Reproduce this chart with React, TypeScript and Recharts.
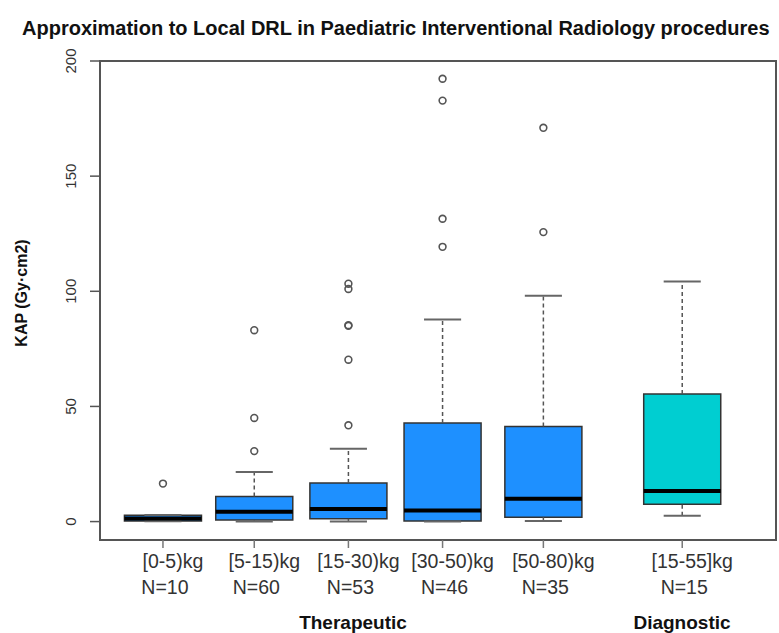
import React from 'react';
import {
  ComposedChart,
  XAxis,
  YAxis,
  Scatter,
  ReferenceArea,
  ReferenceLine,
} from 'recharts';

const categories = ['[0-5)kg', '[5-15)kg', '[15-30)kg', '[30-50)kg', '[50-80)kg', '[15-55]kg'];
const counts = [10, 60, 53, 46, 35, 15];
const positions = [1, 1.96, 2.95, 3.94, 5, 6.46];

const lowWhisker = [0.1, 0, 0, 0, 0.3, 2.5];
const q1 = [0.3, 0.7, 1.2, 0.3, 1.9, 7.5];
const median = [1.3, 4.3, 5.5, 4.8, 9.9, 13.3];
const q3 = [2.7, 10.9, 16.7, 42.8, 41.3, 55.4];
const highWhisker = [2.9, 21.5, 31.6, 87.7, 98.1, 104.2];
const outliers = [
  [16.5],
  [30.6, 45, 83.1],
  [41.8, 70.3, 85, 85.3, 101, 103.3],
  [119.3, 131.5, 182.8, 192.3],
  [125.7, 171],
  [],
];
const boxColors = ['#1E90FF', '#1E90FF', '#1E90FF', '#1E90FF', '#1E90FF', '#00CED1'];

const yTicks = [0, 50, 100, 150, 200];
const xDomain: [number, number] = [0.338, 7.446];
const yDomain: [number, number] = [-8, 200];

const BOX_HALF = 0.405;
const CAP_HALF = 0.195;
const FONT = '"Liberation Sans", Arial, sans-serif';

const outlierPoints = outliers.flatMap((vals, i) => vals.map((v) => ({ x: positions[i], y: v })));

const XTick = (props: any) => {
  const { x, y, index } = props;
  return (
    <g>
      <text x={x + 10} y={y + 18} textAnchor="middle" fontSize={19.5} fill="#333" fontFamily={FONT}>
        {categories[index]}
      </text>
      <text x={x + 2} y={y + 44} textAnchor="middle" fontSize={19.5} fill="#333" fontFamily={FONT}>
        {`N=${counts[index]}`}
      </text>
    </g>
  );
};

const YTick = (props: any) => {
  const { x, y, payload } = props;
  const bx = x - 12;
  return (
    <text
      x={bx}
      y={y}
      transform={`rotate(-90 ${bx} ${y})`}
      textAnchor="middle"
      fontSize={15}
      fill="#333"
      fontFamily={FONT}
    >
      {payload.value}
    </text>
  );
};

const OutlierDot = (props: any) => (
  <circle cx={props.cx} cy={props.cy} r={3.4} fill="none" stroke="#555" strokeWidth={1.6} />
);

export default function App() {
  return (
    <div style={{ position: 'absolute', left: 0, top: 0, width: 779, height: 633, background: '#fff' }}>
      <ComposedChart
        width={779}
        height={633}
        margin={{ top: 61, right: 3, bottom: 0, left: 40 }}
      >
        <XAxis
          dataKey="x"
          type="number"
          domain={xDomain}
          ticks={positions}
          allowDataOverflow
          axisLine={false}
          tickSize={8}
          tickLine={{ stroke: '#777', strokeWidth: 1.5 }}
          height={93}
          tick={<XTick />}
          interval={0}
        />
        <YAxis
          dataKey="y"
          type="number"
          domain={yDomain}
          ticks={yTicks}
          allowDataOverflow
          axisLine={false}
          tickSize={10}
          tickLine={{ stroke: '#555', strokeWidth: 1.5 }}
          width={60}
          tick={<YTick />}
          interval={0}
        />

        {/* whiskers: dashed stems and end caps */}
        {positions.map((p, i) => (
          <ReferenceLine
            key={`wu-${i}`}
            segment={[{ x: p, y: q3[i] }, { x: p, y: highWhisker[i] }]}
            stroke="#555"
            strokeWidth={1.5}
            strokeDasharray="4 3"
            ifOverflow="visible"
          />
        ))}
        {positions.map((p, i) => (
          <ReferenceLine
            key={`wl-${i}`}
            segment={[{ x: p, y: lowWhisker[i] }, { x: p, y: q1[i] }]}
            stroke="#555"
            strokeWidth={1.5}
            strokeDasharray="4 3"
            ifOverflow="visible"
          />
        ))}
        {positions.map((p, i) => (
          <ReferenceLine
            key={`cu-${i}`}
            segment={[{ x: p - CAP_HALF, y: highWhisker[i] }, { x: p + CAP_HALF, y: highWhisker[i] }]}
            stroke="#666"
            strokeWidth={2}
            ifOverflow="visible"
          />
        ))}
        {positions.map((p, i) => (
          <ReferenceLine
            key={`cl-${i}`}
            segment={[{ x: p - CAP_HALF, y: lowWhisker[i] }, { x: p + CAP_HALF, y: lowWhisker[i] }]}
            stroke="#666"
            strokeWidth={2}
            ifOverflow="visible"
          />
        ))}

        {/* boxes */}
        {positions.map((p, i) => (
          <ReferenceArea
            key={`box-${i}`}
            x1={p - BOX_HALF}
            x2={p + BOX_HALF}
            y1={q1[i]}
            y2={q3[i]}
            fill={boxColors[i]}
            fillOpacity={1}
            stroke="#333"
            strokeWidth={1.5}
            ifOverflow="visible"
          />
        ))}

        {/* medians */}
        {positions.map((p, i) => (
          <ReferenceLine
            key={`med-${i}`}
            segment={[{ x: p - BOX_HALF, y: median[i] }, { x: p + BOX_HALF, y: median[i] }]}
            stroke="#000"
            strokeWidth={4}
            ifOverflow="visible"
          />
        ))}

        {/* plot frame */}
        <ReferenceArea
          x1={xDomain[0]}
          x2={xDomain[1]}
          y1={yDomain[0]}
          y2={yDomain[1]}
          fill="none"
          stroke="#555"
          strokeWidth={2}
          ifOverflow="visible"
        />

        <Scatter data={outlierPoints} dataKey="y" shape={<OutlierDot />} isAnimationActive={false} />
      </ComposedChart>

      <svg
        width={779}
        height={633}
        style={{ position: 'absolute', left: 0, top: 0, pointerEvents: 'none' }}
      >
        <text
          x={22}
          y={35}
          fontSize={20}
          fontWeight="bold"
          fill="#111"
          fontFamily={FONT}
        >
          Approximation to Local DRL in Paediatric Interventional Radiology procedures
        </text>
        <text
          x={27}
          y={293}
          transform="rotate(-90 27 293)"
          textAnchor="middle"
          fontSize={16}
          fontWeight="bold"
          fill="#111"
          fontFamily={FONT}
        >
          KAP (Gy·cm2)
        </text>
        <text x={353} y={629} textAnchor="middle" fontSize={19} fontWeight="bold" fill="#111" fontFamily={FONT}>
          Therapeutic
        </text>
        <text x={682} y={629} textAnchor="middle" fontSize={19} fontWeight="bold" fill="#111" fontFamily={FONT}>
          Diagnostic
        </text>
      </svg>
    </div>
  );
}
